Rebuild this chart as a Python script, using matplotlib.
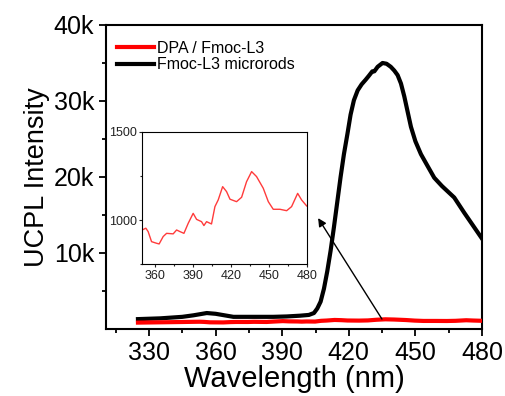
import matplotlib
matplotlib.use('Agg')
import matplotlib.pyplot as plt
from matplotlib.ticker import MultipleLocator, FuncFormatter

plt.rcParams['font.family'] = ['Liberation Sans', 'DejaVu Sans']

# 데이터
wl_black = [325, 335, 345, 350, 356, 360, 364, 368, 376, 386, 392, 398, 402, 404.3,
            405.8, 407.3, 408.8, 410.3, 411.8, 413.3, 414.8, 416.3, 417.8, 419.4, 420.8,
            422.3, 424, 425.8, 427.6, 429, 430.6, 431.5, 433, 435.2, 437, 438.9, 440.5,
            442, 443.5, 445, 446.5, 448, 450, 452.5, 455, 458.5, 462, 467.5, 472, 476, 480]
int_black = [1300, 1400, 1600, 1800, 2100, 2000, 1800, 1600, 1600, 1600, 1650, 1750, 1850, 2100,
             2700, 3600, 5300, 7600, 10300, 13400, 16700, 20000, 23000, 25700, 28200,
             30100, 31400, 32200, 32800, 33300, 33900, 33900, 34500, 35000, 34900, 34500, 34000,
             33400, 32300, 30600, 28600, 26600, 24700, 23000, 21700, 19900, 18800, 17300, 15300, 13600, 11900]

wl_red = [325, 330, 335, 340, 345, 350, 352.9, 354.7, 357.4, 361.3, 363.4, 366.6, 369.3,
          374.5, 377.2, 379.8, 383, 386.4, 390.3, 393, 396.9, 398.8, 400.9, 404.8, 407.5,
          410.1, 413.6, 416.7, 419.4, 424.6, 428.6, 432.5, 436.5, 440.4, 445.7, 449.7,
          453.6, 458.9, 464.2, 468.1, 472.9, 476, 480]
int_red = [840, 860, 880, 900, 920, 944, 954, 935, 878, 869, 865, 907, 925,
           922, 944, 935, 925, 982, 1038, 1004, 991, 969, 991, 978, 1076,
           1114, 1189, 1161, 1118, 1104, 1129, 1217, 1274, 1246, 1180, 1104,
           1061, 1061, 1053, 1076, 1151, 1114, 1080]

fig = plt.figure(figsize=(5.06, 3.96), dpi=100)
ax = fig.add_axes([0.2095, 0.1692, 0.743, 0.7677])

ax.plot(wl_red, int_red, color='#ff0000', lw=3, label='DPA / Fmoc-L3', zorder=3)
ax.plot(wl_black, int_black, color='black', lw=3, label='Fmoc-L3 microrods', zorder=2)

ax.set_xlim(310.6, 480)
ax.set_ylim(0, 40000)
ax.xaxis.set_major_locator(MultipleLocator(30))
ax.xaxis.set_minor_locator(MultipleLocator(15))
ax.set_yticks([10000, 20000, 30000, 40000])
ax.set_yticks([5000, 15000, 25000, 35000], minor=True)
ax.yaxis.set_major_formatter(FuncFormatter(lambda v, p: '%dk' % (v / 1000)))

for s in ax.spines.values():
    s.set_linewidth(1.5)
ax.tick_params(which='both', direction='out', width=1.3, labelsize=18, top=False, right=False)
ax.tick_params(which='major', length=5)
ax.tick_params(which='minor', length=3)

ax.set_xlabel('Wavelength (nm)', fontsize=21, labelpad=0)
ax.set_ylabel('UCPL Intensity', fontsize=19.5, labelpad=3)

leg = ax.legend(loc='upper left', frameon=False, fontsize=11.5, handlelength=2.3,
                handletextpad=0.2, labelspacing=0.1, borderaxespad=0.3,
                bbox_to_anchor=(0.0, 0.985))

ax.annotate('', xy=(405.5, 14900), xytext=(435.6, 1000),
            arrowprops=dict(arrowstyle='-|>', color='black', lw=1, mutation_scale=12),
            zorder=4)

# 삽입 그래프
ins = fig.add_axes([0.281, 0.3326, 0.325, 0.335])
ins.plot(wl_red, int_red, color='#ff3b3b', lw=1)
ins.set_xlim(350, 480)
ins.set_ylim(750, 1500)
ins.xaxis.set_minor_locator(MultipleLocator(15))
ins.yaxis.set_minor_locator(MultipleLocator(250))
ins.set_xticks([360, 390, 420, 450, 480])
ins.set_yticks([1000, 1500])
for s in ins.spines.values():
    s.set_linewidth(0.8)
ins.tick_params(which='both', direction='out', width=0.8, labelsize=9, colors='#222222',
                pad=1.5)
ins.tick_params(which='major', length=2.5)
ins.tick_params(which='minor', length=1.5)

fig.savefig('out.png', dpi=100)
